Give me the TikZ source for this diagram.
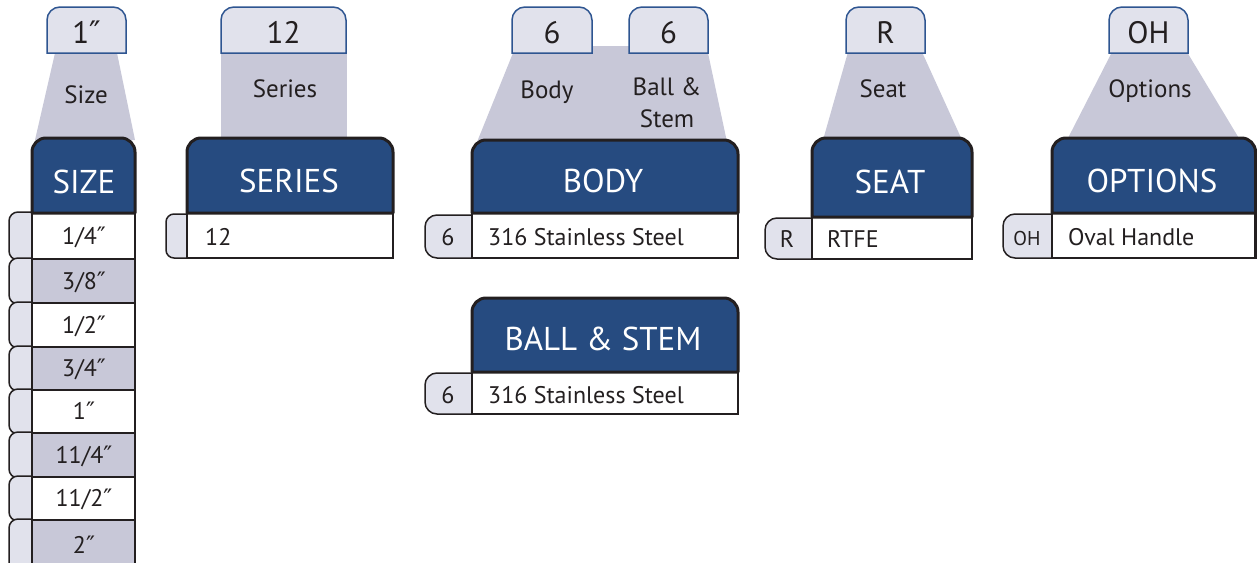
\documentclass[tikz,border=0pt]{standalone}
\usepackage{fontspec}
\setmainfont{PT Sans}
\newfontfamily\dvfont{DejaVu Sans}
\newcommand\dprime{{\dvfont ″}}
\definecolor{hdrblue}{RGB}{38,75,128}
\definecolor{tabfill}{RGB}{225,226,236}
\definecolor{shadegray}{RGB}{200,200,216}
\definecolor{tabblue}{RGB}{46,85,145}
\definecolor{ink}{RGB}{35,31,32}
\tikzset{
  toptab/.style={draw=tabblue, line width=1.5pt, fill=tabfill},
  hdrbox/.style={draw=ink, line width=3pt, fill=hdrblue, line join=round},
  rowbox/.style={draw=ink, line width=2.2pt},
  sidetab/.style={draw=ink, line width=1.5pt, fill=tabfill},
  shade/.style={fill=shadegray},
  hdrtext/.style={text=white, font=\fontsize{33}{36}\selectfont, anchor=base, inner sep=0pt},
  toptext/.style={text=ink, font=\fontsize{31}{34}\selectfont, anchor=base, inner sep=0pt},
  labeltext/.style={text=ink, font=\fontsize{25}{28}\selectfont, anchor=base, inner sep=0pt},
  rowtext/.style={text=ink, font=\fontsize{24}{26}\selectfont, anchor=base, inner sep=0pt},
  smalltext/.style={text=ink, font=\fontsize{20}{22}\selectfont, anchor=base, inner sep=0pt},
}
% x1 x2 name text
\newcommand\TopTab[4]{%
  \draw[toptab] (#1,-53) -- (#1,-20) arc[start angle=180,end angle=90,radius=13] -- ({#2-13},-7) arc[start angle=90,end angle=0,radius=13] -- (#2,-53) -- cycle;
  \node[toptext] (#3) at ({(#1+#2)/2},-43) {#4};}
% x1 x2 ytop ybot
\newcommand\HeadBox[4]{%
  \draw[hdrbox] (#1,-#4) -- (#1,{-#3-14}) arc[start angle=180,end angle=90,radius=14] -- ({#2-14},-#3) arc[start angle=90,end angle=0,radius=14] -- (#2,-#4) -- cycle;}
% x0 x1 ytop ybot r
\newcommand\SideTab[5]{%
  \draw[sidetab] (#2,-#3) -- ({#1+#5},-#3) arc[start angle=90,end angle=180,radius=#5] -- (#1,{-#4+#5}) arc[start angle=180,end angle=270,radius=#5] -- (#2,-#4);}
% ytop ybot fill name text
\newcommand\SizeRow[5]{%
  \SideTab{9}{32}{#1+1}{#2-1}{9}
  \draw[rowbox, fill=#3] (32,-#1) rectangle (135,-#2);
  \node[rowtext] (#4) at (84,{-(#1+#2)/2-8}) {#5};}
\begin{document}
\begin{tikzpicture}[x=1pt,y=1pt]
\useasboundingbox (0,0) rectangle (1257,-562);
% ---- shaded connectors
\fill[shade] (55,-53) -- (117,-53) -- (135,-140) -- (35,-140) -- cycle;
\fill[shade] (221,-53) rectangle (347,-140);
\fill[shade] (477,-142) -- (513,-53) -- (513,-46) -- (708,-46) -- (708,-53) -- (727,-142) -- cycle;
\fill[shade] (848,-52) -- (922,-52) -- (962,-140) -- (823,-140) -- cycle;
\fill[shade] (1112,-52) -- (1187,-52) -- (1240,-140) -- (1067,-140) -- cycle;
% ---- top tabs
\TopTab{47}{126}{tsize}{1\dprime}
\TopTab{221}{346}{tseries}{12}
\TopTab{512}{592}{tbody}{6}
\TopTab{629}{708}{tball}{6}
\TopTab{846}{925}{tseat}{R}
\TopTab{1109}{1188}{topt}{OH}
% ---- labels
\node[labeltext] (lsize) at (86,-103) {Size};
\node[labeltext] (lseries) at (285,-97) {Series};
\node[labeltext] (lbody) at (547,-98) {Body};
\node[labeltext] (lballa) at (667,-95) {Ball \&};
\node[labeltext] (lballb) at (667,-127) {Stem};
\node[labeltext] (lseat) at (883,-97) {Seat};
\node[labeltext] (lopt) at (1150,-97) {Options};
% ---- SIZE column
\SizeRow{213}{259}{white}{r1}{1/4\dprime}
\SizeRow{259}{303}{shadegray}{r2}{3/8\dprime}
\SizeRow{303}{347}{white}{r3}{1/2\dprime}
\SizeRow{347}{390}{shadegray}{r4}{3/4\dprime}
\SizeRow{390}{433}{white}{r5}{1\dprime}
\SizeRow{433}{477}{shadegray}{r6}{11/4\dprime}
\SizeRow{477}{520}{white}{r7}{11/2\dprime}
\SizeRow{520}{570}{shadegray}{r8}{2\dprime}
\HeadBox{32}{135}{138}{213}
\node[hdrtext] (hsize) at (84,-193) {SIZE};
% ---- SERIES
\SideTab{166}{187}{214}{258}{8}
\draw[rowbox, fill=white] (187,-213) rectangle (393,-258);
\node[rowtext, anchor=base west] (vseries) at (205,-245) {12};
\HeadBox{187}{393}{138}{213}
\node[hdrtext] (hseries) at (289,-192) {SERIES};
% ---- BODY
\SideTab{425}{472}{215}{258}{12}
\node[rowtext] (kbody) at (448,-245) {6};
\draw[rowbox, fill=white] (472,-213) rectangle (738,-258);
\node[rowtext, anchor=base west] (vbody) at (488,-245) {316 Stainless Steel};
\HeadBox{472}{738}{140}{213}
\node[hdrtext] (hbody) at (603,-192) {BODY};
% ---- BALL & STEM
\SideTab{425}{472}{373}{414}{12}
\node[rowtext] (kball) at (448,-403) {6};
\draw[rowbox, fill=white] (472,-372) rectangle (738,-414);
\node[rowtext, anchor=base west] (vball) at (488,-403) {316 Stainless Steel};
\HeadBox{472}{738}{298}{372}
\node[hdrtext] (hball) at (603,-350) {BALL \& STEM};
% ---- SEAT
\SideTab{765}{812}{218}{259}{12}
\node[rowtext] (kseat) at (787,-247) {R};
\draw[rowbox, fill=white] (812,-217) rectangle (972,-259);
\node[rowtext, anchor=base west] (vseat) at (827,-247) {RTFE};
\HeadBox{812}{972}{138}{217}
\node[hdrtext] (hseat) at (890,-193) {SEAT};
% ---- OPTIONS
\SideTab{1003}{1052}{214}{258}{12}
\node[smalltext] (kopt) at (1027,-245) {OH};
\draw[rowbox, fill=white] (1052,-213) rectangle (1255.5,-258);
\node[rowtext, anchor=base west] (vopt) at (1068,-245) {Oval Handle};
\HeadBox{1052}{1255.5}{138}{213}
\node[hdrtext] (hopt) at (1152,-192) {OPTIONS};
\end{tikzpicture}
\end{document}
